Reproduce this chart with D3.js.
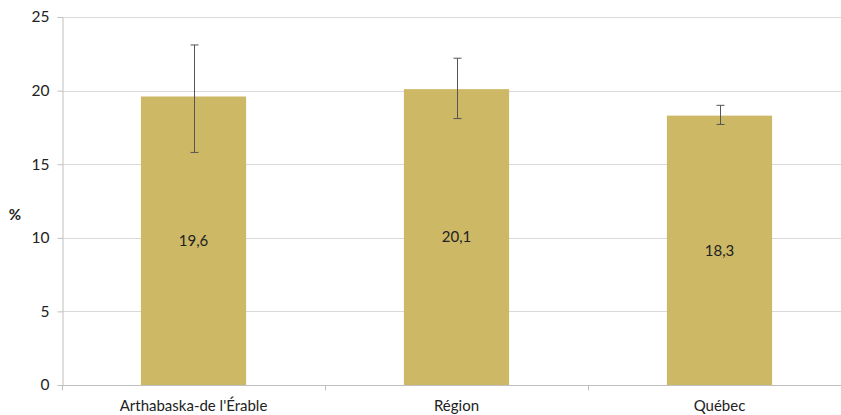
<!DOCTYPE html>
<html lang="fr">
<head>
  <meta charset="UTF-8">
  <title>Chart</title>
</head>
<style>
  body { margin: 0; background: #fff; }
  text { font-family: Lato, "Open Sans", sans-serif; fill: #222; }
  .grid line { stroke: #d9d9d9; stroke-width: 1px; }
  .err { stroke: #555; stroke-width: 1px; }
</style>
<body>
<div id="chart"></div>
<script src="https://d3js.org/d3.v7.min.js"></script>
<script>
// data
var categories = ["Arthabaska-de l'Érable", "Région", "Québec"];
var values = [19.6, 20.1, 18.3];
var errLow = [15.8, 18.1, 17.7];
var errHigh = [23.1, 22.2, 19.0];
var yTicks = [0, 5, 10, 15, 20, 25];

var width = 841, height = 415;
var svg = d3.select("#chart").append("svg")
    .attr("width", width)
    .attr("height", height);

var x = d3.scaleBand()
    .domain(categories)
    .range([62, 851])
    .paddingInner(0.6)
    .paddingOuter(0.3);

var y = d3.scaleLinear()
    .domain([0, 25])
    .range([385, 17]);

// gridlines
svg.append("g").attr("class", "grid")
  .selectAll("line")
  .data(yTicks.filter(function(d) { return d > 0; }))
  .enter().append("line")
    .attr("x1", 62).attr("x2", 851)
    .attr("y1", function(d) { return Math.round(y(d)) + 0.5; })
    .attr("y2", function(d) { return Math.round(y(d)) + 0.5; });

// bars
svg.selectAll(".bar")
  .data(values)
  .enter().append("rect")
    .attr("class", "bar")
    .attr("x", function(d, i) { return x(categories[i]); })
    .attr("width", x.bandwidth())
    .attr("y", function(d) { return y(d); })
    .attr("height", function(d) { return y(0) - y(d); })
    .attr("fill", "#cdb866");

// y axis
var yAxis = svg.append("g")
    .attr("transform", "translate(62.5,0)")
    .call(d3.axisLeft(y).tickValues(yTicks).tickSize(5).tickSizeOuter(0).tickPadding(8));
yAxis.select(".domain").attr("stroke", "#bfbfbf");
yAxis.selectAll(".tick line").attr("stroke", "#bfbfbf");
yAxis.selectAll("text").style("font-size", "15.5px").attr("fill", "#222");

// x axis line and boundary ticks
var xa = svg.append("g").attr("transform", "translate(0," + (Math.round(y(0)) + 0.5) + ")");
xa.append("line").attr("x1", 62).attr("x2", 851).attr("stroke", "#bfbfbf");
xa.selectAll(".bt")
  .data(d3.range(categories.length + 1))
  .enter().append("line")
    .attr("x1", function(i) { return Math.round(62 + i * (851 - 62) / categories.length) + 0.5; })
    .attr("x2", function(i) { return Math.round(62 + i * (851 - 62) / categories.length) + 0.5; })
    .attr("y1", 0).attr("y2", 5)
    .attr("stroke", "#bfbfbf");
xa.selectAll(".lbl")
  .data(categories)
  .enter().append("text")
    .attr("x", function(d) { return x(d) + x.bandwidth() / 2; })
    .attr("y", 25)
    .attr("text-anchor", "middle")
    .style("font-size", "15px")
    .text(function(d) { return d; });

// error bars
var err = svg.append("g").attr("class", "err");
values.forEach(function(v, i) {
  var cx = Math.round(x(categories[i]) + x.bandwidth() / 2) + 0.5;
  err.append("line").attr("x1", cx).attr("x2", cx)
    .attr("y1", y(errHigh[i])).attr("y2", y(errLow[i]));
  err.append("line").attr("x1", cx - 4).attr("x2", cx + 4)
    .attr("y1", y(errHigh[i])).attr("y2", y(errHigh[i]));
  err.append("line").attr("x1", cx - 4).attr("x2", cx + 4)
    .attr("y1", y(errLow[i])).attr("y2", y(errLow[i]));
});

// value labels
svg.selectAll(".val")
  .data(values)
  .enter().append("text")
    .attr("x", function(d, i) { return x(categories[i]) + x.bandwidth() / 2; })
    .attr("y", function(d) { return (y(d) + y(0)) / 2; })
    .attr("dy", "0.35em")
    .attr("text-anchor", "middle")
    .style("font-size", "15px")
    .text(function(d) { return String(d).replace(".", ","); });

// y title
svg.append("text")
    .attr("x", 15).attr("y", 215)
    .attr("dy", "0.35em")
    .attr("text-anchor", "middle")
    .style("font-size", "15px")
    .style("font-weight", "bold")
    .text("%");
</script>
</body>
</html>
